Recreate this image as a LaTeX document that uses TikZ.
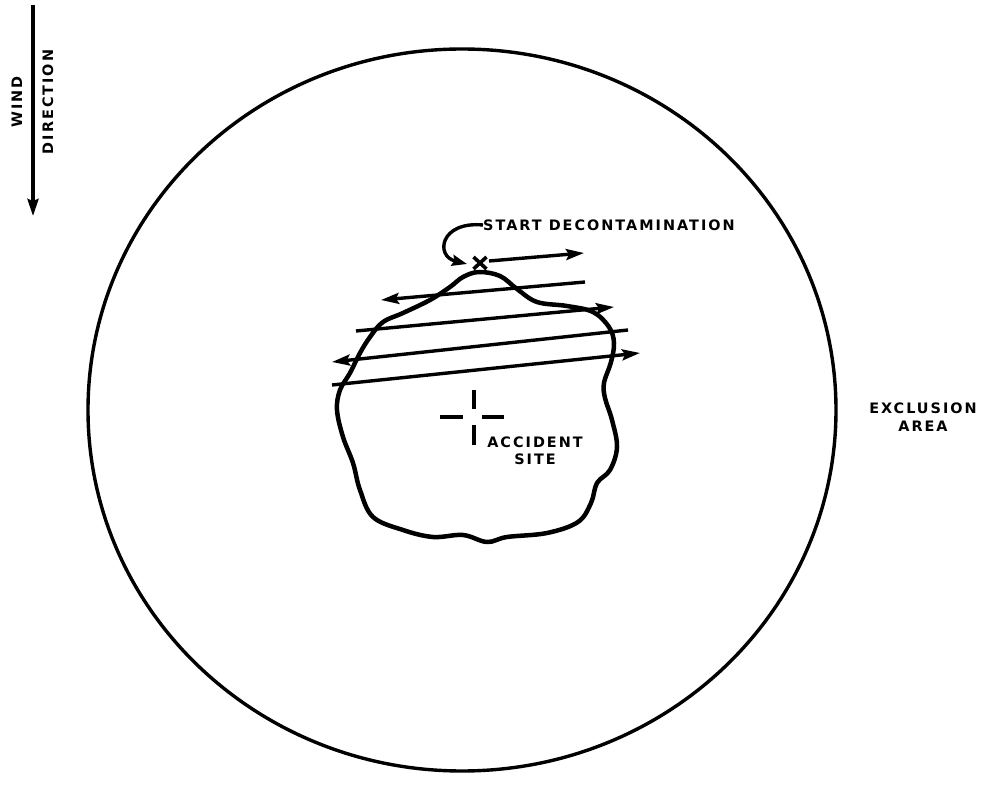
\documentclass[tikz,border=0pt]{standalone}
\usepackage{fontspec}
\newfontfamily\labfont[LetterSpace=14]{DejaVu Sans}
\usetikzlibrary{arrows.meta,calc,shapes.geometric}
\tikzset{
  lab/.style={font=\labfont\bfseries\fontsize{14.4}{17.5}\selectfont, inner sep=0pt, align=center},
  sweep/.style={line width=3.4pt, -{Stealth[length=18pt,width=11pt,inset=3pt]}},
}
\begin{document}
\begin{tikzpicture}[x=1pt,y=-1pt]
\useasboundingbox (0,0) rectangle (988,799);
% exclusion circle
\node[draw, line width=3.4pt, ellipse, minimum width=748pt, minimum height=722pt, inner sep=0pt] (zone) at (462,410) {};
% wind direction
\coordinate (w1) at (33,5);
\coordinate (w2) at (33,216);
\draw[line width=3.4pt, -{Stealth[length=17pt,width=11pt,inset=2pt]}] (w1) -- (w2);
\node[lab, rotate=90] (wind) at (17,102) {WIND};
\node[lab, rotate=90] (dir) at (48,102) {DIRECTION};
% contaminated area
\draw[line width=4.5pt, line join=round] plot[smooth cycle, tension=0.6] coordinates {
(479,272) (500,276) (517,289) (537,302) (567,306) (593,312) (609,327) (614,343)
(611,362) (604,383) (605,398) (612,420) (617,447) (610,470) (597,483) (591,503)
(578,522) (547,533) (507,537) (487,542) (463,535) (433,537) (403,530) (373,517)
(360,490) (353,463) (343,437) (337,410) (340,390) (350,373) (360,353) (370,337)
(383,322) (403,313) (430,300) (450,287) (463,277)};
% start mark
\coordinate (xm) at (480,263);
\draw[line width=3.6pt] ($(xm)+(-6.5,-6)$) -- ($(xm)+(6.5,6)$) ($(xm)+(-6.5,6)$) -- ($(xm)+(6.5,-6)$);
\node[lab, anchor=west] (start) at (483,225) {START DECONTAMINATION};
\draw[line width=3.4pt, -{Stealth[length=15pt,width=11pt,inset=2pt]}] (start.west) .. controls (440,221) and (435,256) .. ($(xm)+(-13,1)$);
% sweep lines
\coordinate (a1s) at (489,261); \coordinate (a1e) at (584,253);
\coordinate (a2s) at (585,282); \coordinate (a2e) at (381,300);
\coordinate (a3s) at (356,331); \coordinate (a3e) at (614,307);
\coordinate (a4s) at (628,330); \coordinate (a4e) at (332,362);
\coordinate (a5s) at (332,385); \coordinate (a5e) at (640,353);
\draw[sweep] (a1s) -- (a1e);
\draw[sweep] (a2s) -- (a2e);
\draw[sweep] (a3s) -- (a3e);
\draw[sweep] (a4s) -- (a4e);
\draw[sweep] (a5s) -- (a5e);
% accident site marker
\coordinate (site) at (474,417);
\draw[line width=3.4pt] ($(site)+(0,-27)$) -- ($(site)+(0,-8)$)
  ($(site)+(0,8)$) -- ($(site)+(0,28)$)
  ($(site)+(-34,0)$) -- ($(site)+(-11,0)$)
  ($(site)+(8,0)$) -- ($(site)+(30,0)$);
\node[lab] (acc) at (535,451) {ACCIDENT\\SITE};
% exclusion label
\node[lab] (excl) at (923,417) {EXCLUSION\\AREA};
\end{tikzpicture}
\end{document}
